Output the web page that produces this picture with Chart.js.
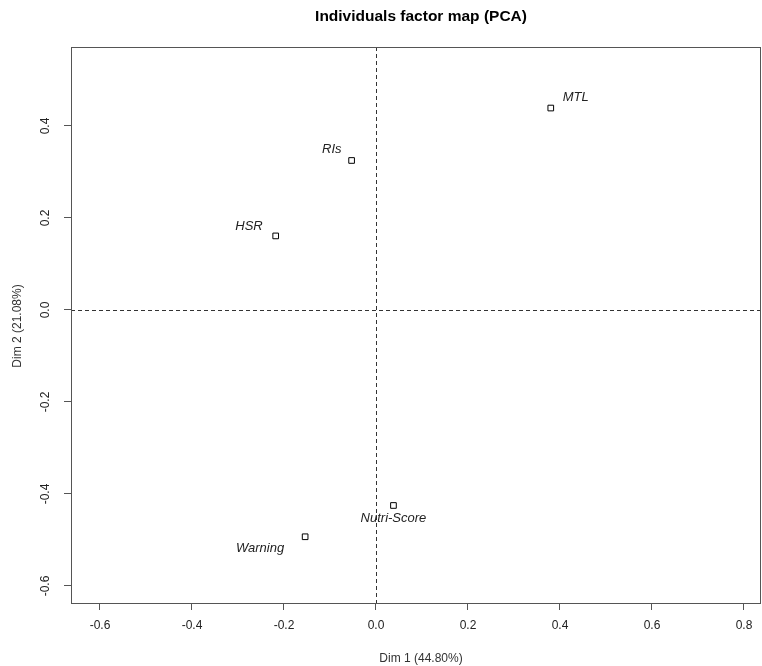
<!DOCTYPE html>
<html>
<head>
<meta charset="utf-8">
<script src="https://cdn.jsdelivr.net/npm/chart.js@4/dist/chart.umd.min.js"></script>
<style>
  html, body { margin: 0; padding: 0; background: #fff; overflow: hidden; }
</style>
</head>
<body>
<canvas id="pca" width="762" height="666"></canvas>
<script>
// individuals (coordinates on Dim 1 / Dim 2)
const individuals = ['MTL', 'RIs', 'HSR', 'Nutri-Score', 'Warning'];
const dim1 = [0.380, -0.053, -0.218, 0.038, -0.154];
const dim2 = [0.439, 0.325, 0.161, -0.425, -0.493];

const xTicks = [-0.6, -0.4, -0.2, 0.0, 0.2, 0.4, 0.6, 0.8];
const yTicks = [-0.6, -0.4, -0.2, 0.0, 0.2, 0.4];

const chartTitle = 'Individuals factor map (PCA)';
const xTitle = 'Dim 1 (44.80%)';
const yTitle = 'Dim 2 (21.08%)';

// where each label sits relative to its point (px), like R's autoLab
const labelPlace = {
  'MTL':         { dx: 12,  dy: -11, align: 'left' },
  'RIs':         { dx: -10, dy: -11, align: 'right' },
  'HSR':         { dx: -13, dy: -10, align: 'right' },
  'Nutri-Score': { dx: 0,   dy: 13,  align: 'center' },
  'Warning':     { dx: -21, dy: 12,  align: 'right' }
};

const FONT = '"Liberation Sans", Arial, sans-serif';

// box, zero lines, tick labels, point labels, titles
const pcaDecor = {
  id: 'pcaDecor',
  beforeDatasetsDraw(chart) {
    const { ctx, chartArea: a, scales: { x, y } } = chart;
    ctx.save();
    ctx.strokeStyle = '#333';
    ctx.lineWidth = 1;
    ctx.setLineDash([4, 3]);
    const x0 = Math.round(x.getPixelForValue(0)) + 0.5;
    const y0 = Math.round(y.getPixelForValue(0)) + 0.5;
    ctx.beginPath();
    ctx.moveTo(x0, a.top); ctx.lineTo(x0, a.bottom);
    ctx.moveTo(a.left, y0); ctx.lineTo(a.right, y0);
    ctx.stroke();
    ctx.restore();
  },
  afterDraw(chart) {
    const { ctx, chartArea: a, scales: { x, y } } = chart;
    ctx.save();
    // frame
    ctx.strokeStyle = '#555';
    ctx.lineWidth = 1;
    ctx.strokeRect(a.left + 0.5, a.top + 0.5, a.right - a.left - 1, a.bottom - a.top);

    // tick labels
    ctx.fillStyle = '#222';
    ctx.font = '12px ' + FONT;
    ctx.textAlign = 'center';
    ctx.textBaseline = 'middle';
    xTicks.forEach(v => {
      ctx.fillText(v.toFixed(1), x.getPixelForValue(v), a.bottom + 23);
    });
    yTicks.forEach(v => {
      ctx.save();
      ctx.translate(46, y.getPixelForValue(v));
      ctx.rotate(-Math.PI / 2);
      ctx.fillText(v.toFixed(1), 0, 0);
      ctx.restore();
    });

    // point labels
    ctx.font = 'italic 13px ' + FONT;
    ctx.fillStyle = '#222';
    individuals.forEach((name, i) => {
      const p = labelPlace[name];
      ctx.textAlign = p.align;
      ctx.fillText(name, x.getPixelForValue(dim1[i]) + p.dx, y.getPixelForValue(dim2[i]) + p.dy);
    });

    // titles
    ctx.textAlign = 'center';
    ctx.fillStyle = '#000';
    ctx.font = 'bold 15.5px ' + FONT;
    ctx.fillText(chartTitle, 421, 17);
    ctx.fillStyle = '#333';
    ctx.font = '12px ' + FONT;
    ctx.fillText(xTitle, 421, 659);
    ctx.save();
    ctx.translate(18, 326);
    ctx.rotate(-Math.PI / 2);
    ctx.fillText(yTitle, 0, 0);
    ctx.restore();
    ctx.restore();
  }
};

const ctx = document.getElementById('pca').getContext('2d');
new Chart(ctx, {
  type: 'scatter',
  data: {
    datasets: [{
      data: individuals.map((n, i) => ({ x: dim1[i], y: dim2[i] })),
      pointStyle: 'rect',
      pointRadius: 4,
      pointBackgroundColor: '#fff',
      pointBorderColor: '#000',
      pointBorderWidth: 1
    }]
  },
  options: {
    responsive: false,
    animation: false,
    layout: { autoPadding: false, padding: { top: 47, right: 1, left: 0, bottom: 0 } },
    plugins: {
      legend: { display: false },
      title: { display: false },
      tooltip: { enabled: false }
    },
    scales: {
      x: {
        type: 'linear',
        min: -0.663,
        max: 0.837,
        border: { display: false },
        grid: { drawOnChartArea: false, drawTicks: true, tickLength: 7, color: '#555' },
        afterBuildTicks: s => { s.ticks = xTicks.map(v => ({ value: v })); },
        afterFit: s => { s.height = 63; },
        ticks: { display: false }
      },
      y: {
        type: 'linear',
        min: -0.637,
        max: 0.5717,
        border: { display: false },
        grid: { drawOnChartArea: false, drawTicks: true, tickLength: 7, color: '#555' },
        afterBuildTicks: s => { s.ticks = yTicks.map(v => ({ value: v })); },
        afterFit: s => { s.width = 71; },
        ticks: { display: false }
      }
    }
  },
  plugins: [pcaDecor]
});
</script>
</body>
</html>
